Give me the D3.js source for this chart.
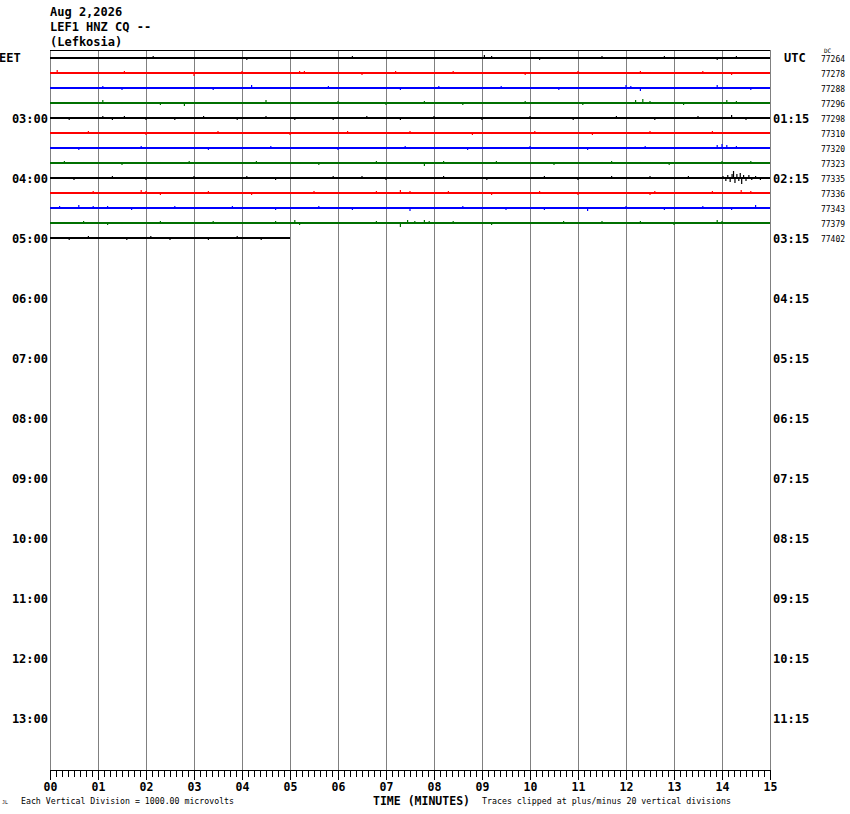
<!DOCTYPE html>
<html>
<head>
<meta charset="utf-8">
<script src="https://cdn.jsdelivr.net/npm/d3@7"></script>
<style>
  html, body { margin: 0; padding: 0; background: #ffffff; }
  svg { display: block; }
  .big { font-family: "DejaVu Sans Mono", monospace; font-weight: bold; font-size: 12px; fill: #000; }
  .small { font-family: "DejaVu Sans Mono", monospace; font-size: 8.4px; fill: #000; }
</style>
</head>
<body>
<svg id="chart" width="850" height="814"></svg>
<script>
// ---------------- data ----------------
const headerLines = ["Aug 2,2026", "LEF1 HNZ CQ --", "(Lefkosia)"];
const minuteTicks = d3.range(0, 16);                 // 00 .. 15
const minuteLabels = minuteTicks.map(m => String(m).padStart(2, "0"));
const leftHourLabels  = ["03:00","04:00","05:00","06:00","07:00","08:00","09:00","10:00","11:00","12:00","13:00"];
const rightHourLabels = ["01:15","02:15","03:15","04:15","05:15","06:15","07:15","08:15","09:15","10:15","11:15"];
const traceCounts = ["77264","77278","77288","77296","77298","77310","77320","77323","77335","77336","77343","77379","77402"];
const traceEndMinute = [15,15,15,15,15,15,15,15,15,15,15,15,5];
// notable spikes per trace: [minute, amplitude (px-units, + = up)]
const traceSpikes = [
  [[2.15,1],[4.1,-1],[6.3,1],[9.05,2],[9.2,1],[10.2,-1],[11.5,1],[12.8,1],[13.9,-1],[14.3,1]],
  [[0.15,2],[1.55,1],[3.0,-2],[4.0,1],[5.2,1],[5.3,1],[6.5,-1],[7.2,1],[8.4,1],[9.9,-1],[11.0,1],[12.3,1],[13.6,1],[14.2,-1]],
  [[1.1,1],[1.5,-1],[3.4,-1],[4.2,2],[5.8,1],[7.3,-1],[8.1,1],[9.4,1],[10.6,-1],[12.0,2],[12.1,1],[12.3,-2],[13.9,2],[14.6,-1]],
  [[1.1,2],[2.3,-1],[2.8,-2],[4.5,2],[6.0,1],[7.0,-1],[7.8,1],[8.6,-1],[9.9,1],[11.1,-1],[12.2,2],[12.35,3],[12.5,1],[13.2,-1],[14.1,2],[14.3,1]],
  [[0.4,-1],[1.1,1],[1.3,-1],[1.55,1],[2.0,-1],[2.6,-1],[3.2,1],[3.9,-1],[4.5,1],[5.1,-1],[5.9,-1],[6.6,1],[7.3,-1],[8.0,1],[9.0,-1],[10.0,1],[10.9,-1],[11.8,1],[12.6,-1],[13.5,1],[14.2,2],[14.5,-1]],
  [[0.8,1],[2.0,-1],[3.5,1],[5.0,-1],[6.2,1],[7.5,1],[8.8,-1],[10.1,1],[11.3,-1],[12.5,1],[13.8,1]],
  [[0.6,-1],[1.9,1],[3.3,-1],[4.6,1],[6.0,-1],[7.4,1],[8.7,-1],[10.0,1],[11.2,-1],[12.4,1],[13.9,2],[14.0,3],[14.1,2],[14.3,1]],
  [[0.3,1],[1.5,-1],[2.9,1],[4.3,1],[5.6,-1],[6.8,1],[7.8,-2],[8.2,1],[9.3,1],[10.5,-1],[11.7,1],[12.9,-1],[14.0,1],[14.6,1]],
  [[0.5,-1],[1.3,1],[2.0,-1],[3.0,1],[4.1,1],[4.7,-1],[5.9,1],[6.5,1],[7.0,-1],[8.2,1],[9.1,-1],[10.3,1],[11.0,-1],[11.7,1],[12.5,1],[13.3,1],
   [14.02,1],[14.08,-2],[14.12,2],[14.17,-3],[14.21,3],[14.24,6],[14.27,-4],[14.31,3],[14.35,-2],[14.38,4],[14.41,-5],[14.45,2],[14.5,-2],[14.56,2],[14.62,-1],[14.7,1],[14.8,-1]],
  [[0.9,1],[1.9,2],[2.0,1],[2.3,-1],[3.3,1],[4.2,-1],[5.5,1],[6.8,1],[7.3,2],[7.5,1],[8.3,1],[9.2,-1],[10.2,1],[11.0,-1],[12.5,-1],[12.6,1],[13.8,1],[14.4,2],[14.6,1]],
  [[0.2,1],[0.6,2],[0.9,1],[1.2,1],[1.7,-1],[2.6,1],[3.8,1],[4.7,-1],[5.6,1],[6.3,-1],[7.5,-2],[8.6,1],[9.5,-1],[10.3,-1],[11.2,-2],[12.0,1],[12.8,-1],[13.6,1],[14.2,-1],[14.7,2]],
  [[0.7,1],[1.2,-1],[2.3,1],[3.4,1],[4.7,1],[5.1,2],[5.2,-1],[6.8,1],[7.3,-3],[7.45,2],[7.6,1],[7.8,2],[7.9,1],[8.4,1],[9.2,-1],[10.7,1],[11.5,1],[12.3,1],[13.0,-1],[13.9,2],[14.0,1]],
  [[0.4,-1],[0.8,1],[1.6,-1],[2.1,1],[2.5,-1],[3.3,-1],[3.9,1],[4.4,-1]]
];

// ---------------- layout ----------------
const svg = d3.select("#chart");
const colors = ["#000000", "#ff0000", "#0000ff", "#007000"];
const x = d3.scaleLinear().domain([0, 15]).range([50, 770]);
const row = d3.scaleLinear().domain([0, 1]).range([58, 73]);   // quarter-hour rows
const amp = d3.scaleLinear().domain([-1, 1]).range([1, -1]);    // amplitude -> px offset
const plotTop = 50, plotBottom = 770;

// header
svg.append("g").selectAll("text").data(headerLines).join("text")
  .attr("class", "big").attr("x", 50).attr("y", (d, i) => 16 + i * 15).text(d => d);

// vertical grid lines
svg.append("g").selectAll("line").data(minuteTicks).join("line")
  .attr("x1", d => x(d)).attr("x2", d => x(d))
  .attr("y1", plotTop).attr("y2", plotBottom)
  .attr("stroke", "#808080").attr("stroke-width", 1).attr("shape-rendering", "crispEdges");

// top border
svg.append("line").attr("x1", x(0)).attr("x2", x(15)).attr("y1", plotTop + 0.5).attr("y2", plotTop + 0.5)
  .attr("stroke", "#000").attr("stroke-width", 1);

// traces
const line = d3.line().x(d => x(d[0])).y(d => d[1]);
const traces = svg.append("g");
traceCounts.forEach((c, i) => {
  const y0 = row(i);
  const col = colors[i % 4];
  traces.append("path")
    .attr("d", line([[0, y0], [traceEndMinute[i], y0]]))
    .attr("stroke", col).attr("stroke-width", 2).attr("fill", "none");
  traces.append("g").selectAll("line").data(traceSpikes[i]).join("line")
    .attr("x1", d => x(d[0])).attr("x2", d => x(d[0]))
    .attr("y1", y0 + amp(0)).attr("y2", d => y0 + amp(d[1]) + (d[1] > 0 ? -1 : 1))
    .attr("stroke", col).attr("stroke-width", 1.2);
});

// left labels
svg.append("text").attr("class", "big").attr("x", -1).attr("y", row(0) + 4).text("EET");
svg.append("g").selectAll("text").data(leftHourLabels).join("text")
  .attr("class", "big").attr("text-anchor", "end")
  .attr("x", 48).attr("y", (d, i) => row((i + 1) * 4) + 4.5).text(d => d);

// right labels
svg.append("text").attr("class", "big").attr("x", 784).attr("y", row(0) + 4).text("UTC");
svg.append("g").selectAll("text").data(rightHourLabels).join("text")
  .attr("class", "big")
  .attr("x", 773).attr("y", (d, i) => row((i + 1) * 4) + 4.5).text(d => d);

// right trace counts
svg.append("g").selectAll("text").data(traceCounts).join("text")
  .attr("class", "small").attr("x", 821).attr("y", (d, i) => row(i) + 4)
  .attr("textLength", 24).attr("lengthAdjust", "spacingAndGlyphs").text(d => d);
svg.append("text").attr("class", "small").attr("x", 824).attr("y", 53)
  .style("font-size", "6px").text("DC");

// bottom axis: minor ticks (1/8 minute) and major ticks with labels
const minorAxis = d3.axisBottom(x).tickValues(d3.range(0, 15.001, 0.125))
  .tickSize(7).tickSizeOuter(0).tickFormat("");
const gMinor = svg.append("g").attr("transform", `translate(0,${plotBottom})`).call(minorAxis);
const majorAxis = d3.axisBottom(x).tickValues(minuteTicks).tickSize(10).tickPadding(3)
  .tickSizeOuter(0).tickFormat((d, i) => minuteLabels[i]);
const gMajor = svg.append("g").attr("transform", `translate(0,${plotBottom})`).call(majorAxis);
[gMinor, gMajor].forEach(g => {
  g.select(".domain").attr("stroke", "#000").attr("stroke-width", 1);
  g.selectAll(".tick line").attr("stroke", "#000").attr("stroke-width", 1);
});
gMajor.selectAll(".tick text").attr("class", "big").attr("fill", "#000")
  .style("font-family", "'DejaVu Sans Mono', monospace").style("font-weight", "bold").style("font-size", "11.5px");

// footer texts
svg.append("text").attr("class", "small").attr("x", 2).attr("y", 804).style("font-size", "5px").text("JL");
svg.append("text").attr("class", "small").attr("x", 21).attr("y", 804)
  .attr("textLength", 213).attr("lengthAdjust", "spacingAndGlyphs")
  .text("Each Vertical Division = 1000.00 microvolts");
svg.append("text").attr("class", "big").attr("x", 373).attr("y", 805)
  .style("font-size", "11.5px")
  .attr("textLength", 97).attr("lengthAdjust", "spacingAndGlyphs").text("TIME (MINUTES)");
svg.append("text").attr("class", "small").attr("x", 482).attr("y", 804)
  .attr("textLength", 249).attr("lengthAdjust", "spacingAndGlyphs")
  .text("Traces clipped at plus/minus 20 vertical divisions");
</script>
</body>
</html>
